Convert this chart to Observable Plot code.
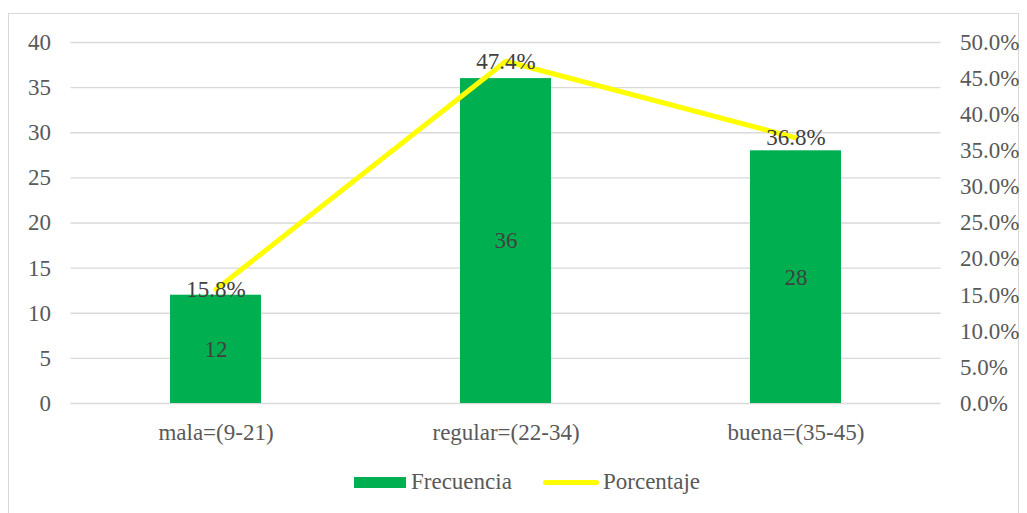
<!DOCTYPE html>
<html>
<head>
<meta charset="utf-8">
<script src="https://cdn.jsdelivr.net/npm/d3@7"></script>
<script src="https://cdn.jsdelivr.net/npm/@observablehq/plot@0.6"></script>
<style>
  body { margin: 0; background: #fff; font-family: "Liberation Serif", "Times New Roman", "DejaVu Serif", serif; }
  #wrap { position: relative; width: 1027px; height: 513px; overflow: hidden; }
  #frame { position: absolute; left: 8px; top: 13px; width: 1011px; height: 510px; border: 1px solid #d9d9d9; box-sizing: border-box; }
  #chart { position: absolute; left: 0; top: 0; }
  #chart svg text { font-family: "Liberation Serif", "Times New Roman", "DejaVu Serif", serif; }
  #legend { position: absolute; left: 0; top: 469px; width: 1027px; height: 28px; font-size: 23px; color: #595959; }
  .sw { position: absolute; }
  .lt { position: absolute; top: 0; line-height: 26px; }
</style>
</head>
<body>
<div id="wrap">
  <div id="frame"></div>
  <div id="chart"></div>
  <div id="legend">
    <div class="sw" style="left:354px;top:8px;width:52px;height:11px;background:#00B050"></div>
    <div class="lt" style="left:411px">Frecuencia</div>
    <div class="sw" style="left:543px;top:11px;width:56px;height:5px;background:#FFFF00;border-radius:3px"></div>
    <div class="lt" style="left:603px">Porcentaje</div>
  </div>
</div>
<script>
const categories = ["mala=(9-21)", "regular=(22-34)", "buena=(35-45)"];
const frecuencia = [12, 36, 28];
const porcentaje = [15.8, 47.4, 36.8];
const leftTicks = [0, 5, 10, 15, 20, 25, 30, 35, 40];
const rightTicks = [0, 5, 10, 15, 20, 25, 30, 35, 40, 45, 50];
const seriesNames = ["Frecuencia", "Porcentaje"];

const leftMax = 40, rightMax = 50;
const k = leftMax / rightMax;
const FS = 23;

const data = categories.map((c, i) => ({cat: c, f: frecuencia[i], p: porcentaje[i]}));

const chart = Plot.plot({
  width: 1027,
  height: 460,
  marginLeft: 70.5,
  marginRight: 86.5,
  marginTop: 42,
  marginBottom: 57,
  style: {fontFamily: "'Liberation Serif', 'Times New Roman', serif", fontSize: FS + "px", background: "transparent", color: "#595959"},
  x: {domain: categories, paddingInner: 0.686, paddingOuter: 0.343, label: null},
  y: {domain: [0, leftMax], label: null},
  marks: [
    Plot.ruleY(leftTicks, {stroke: "#d9d9d9", strokeWidth: 1.3}),
    Plot.barY(data, {x: "cat", y: "f", fill: "#00B050"}),
    Plot.line(data, {x: "cat", y: d => d.p * k, stroke: "#FFFF00", strokeWidth: 5, strokeLinecap: "round", strokeLinejoin: "round"}),
    Plot.text(data, {x: "cat", y: d => d.f / 2, text: d => String(d.f), fill: "#404040", fontSize: FS}),
    Plot.text(data, {x: "cat", y: d => d.p * k, text: d => d.p.toFixed(1) + "%", fill: "#404040", fontSize: FS}),
    Plot.axisX({tickSize: 0, tickPadding: 20, label: null, fill: "#595959", fontSize: FS}),
    Plot.axisY(leftTicks, {anchor: "left", tickSize: 0, tickPadding: 20, label: null, fill: "#595959", fontSize: FS}),
    Plot.axisY(rightTicks.map(t => t * k), {anchor: "right", tickSize: 0, tickPadding: 19, label: null, fill: "#595959", fontSize: FS,
      tickFormat: d => (d / k).toFixed(1) + "%"})
  ]
});
document.getElementById("chart").appendChild(chart);
</script>
</body>
</html>
